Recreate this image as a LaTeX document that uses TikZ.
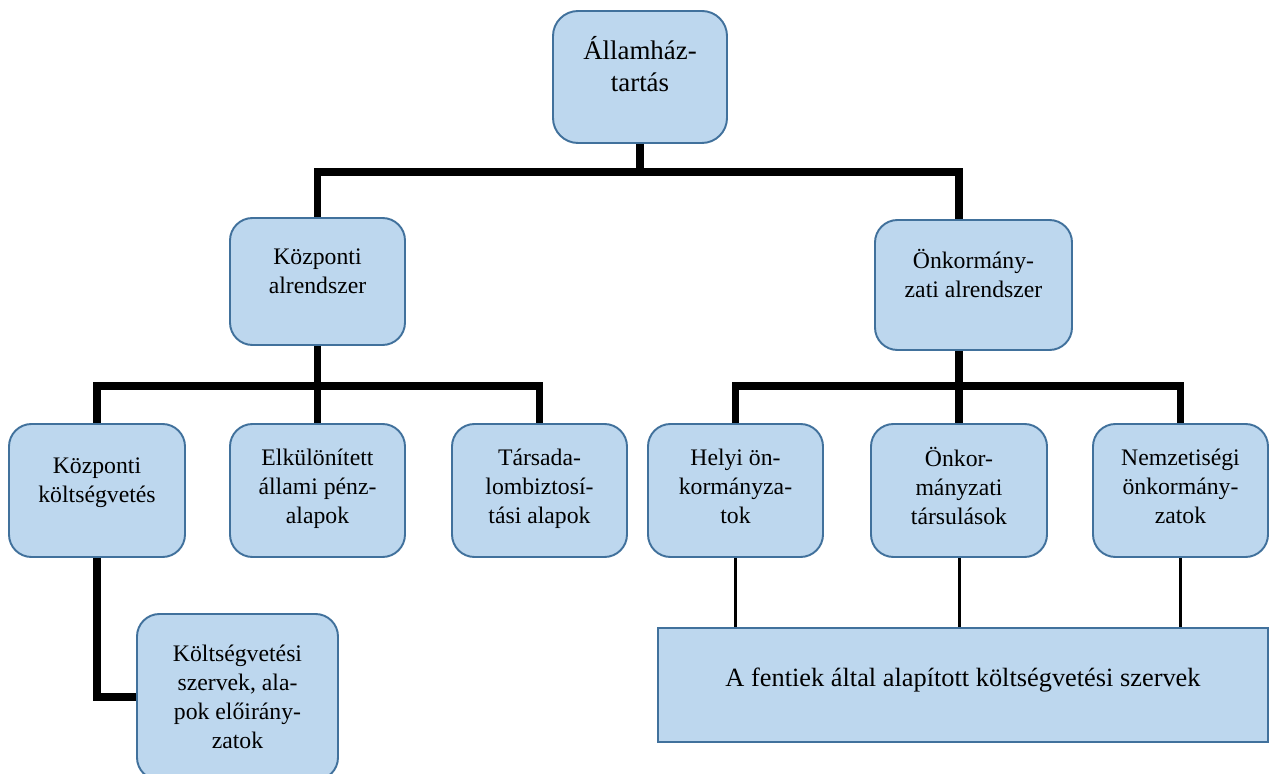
\documentclass[tikz,border=0pt]{standalone}
\usepackage{fontspec}
\setmainfont{Liberation Serif}
\usetikzlibrary{positioning}
\definecolor{boxfill}{RGB}{189,215,238}
\definecolor{boxline}{RGB}{65,113,156}

\begin{document}
\begin{tikzpicture}
		% Styles
		\tikzset{
			unit/.style={draw=boxline, fill=boxfill, line width=1.1pt, rounded corners=0.45cm, align=center, inner sep=0pt, minimum width=3.5cm, minimum height=2.66cm, font=\fontsize{13.5}{16.5}\selectfont},
			lift/.style={execute at end node={\rule[-#1]{0pt}{#1}}},
			bar/.style={draw=black, line width=4.5pt},
			link/.style={draw=black, line width=1.7pt}
		}
		\useasboundingbox (0,0) rectangle (25.42,-15.48);

		% Top level
		\node[unit, lift=0.52cm, minimum width=3.48cm, minimum height=2.64cm, rounded corners=0.5cm, font=\fontsize{15.3}{18.7}\selectfont] (haz) at (12.8,-1.54) {Államház-\\tartás};

		% Subsystems
		\node[unit, lift=0.42cm, minimum height=2.54cm] (kozp) at (6.35,-5.63) {Központi\\alrendszer};
		\node[unit, lift=0.48cm, minimum width=3.94cm, minimum height=2.6cm] (onk) at (19.47,-5.70) {Önkormány-\\zati alrendszer};

		% Third level
		\node[unit, lift=0.4cm, minimum width=3.52cm] (kkv) at (1.94,-9.81) {Központi\\költségvetés};
		\node[unit, lift=0.18cm] (elk) at (6.35,-9.81) {Elkülönített\\állami pénz-\\alapok};
		\node[unit, lift=0.18cm] (tbiz) at (10.79,-9.81) {Társada-\\lombiztosí-\\tási alapok};
		\node[unit, lift=0.18cm] (helyi) at (14.71,-9.81) {Helyi ön-\\kormányza-\\tok};
		\node[unit, lift=0.18cm, minimum width=3.52cm] (tarsul) at (19.18,-9.81) {Önkor-\\mányzati\\társulások};
		\node[unit, lift=0.18cm] (nemz) at (23.61,-9.81) {Nemzetiségi\\önkormány-\\zatok};

		% Bottom level
		\node[unit, minimum width=4.02cm, minimum height=3.32cm] (ksz) at (4.75,-13.94) {Költségvetési\\szervek, ala-\\pok előirány-\\zatok};
		\node[unit, lift=0.32cm, sharp corners, minimum width=12.2cm, minimum height=2.28cm, font=\fontsize{15}{18}\selectfont] (szerv) at (19.26,-13.70) {A fentiek által alapított költségvetési szervek};

		% Junctions
		\coordinate (j1) at (12.8,-3.44);
		\coordinate (j2) at (6.35,-7.72);
		\coordinate (j3) at (19.18,-7.72);

		% Connectors
		\draw[bar] (haz.south) -- (j1);
		\draw[bar] (kozp.north) |- (j1) -| (onk.north -| tarsul.north);
		\draw[bar] (kozp.south) -- (elk.north);
		\draw[bar] (kkv.north) |- (j2) -| (tbiz.north);
		\draw[bar] (onk.south -| tarsul.north) -- (tarsul.north);
		\draw[bar] (helyi.north) |- (j3) -| (nemz.north);
		\draw[bar] (kkv.south) |- (ksz.west);
		\draw[link] (helyi.south) -- (helyi.south |- szerv.north);
		\draw[link] (tarsul.south) -- (szerv.north -| tarsul.south);
		\draw[link] (nemz.south) -- (nemz.south |- szerv.north);

	\end{tikzpicture}
\end{document}
